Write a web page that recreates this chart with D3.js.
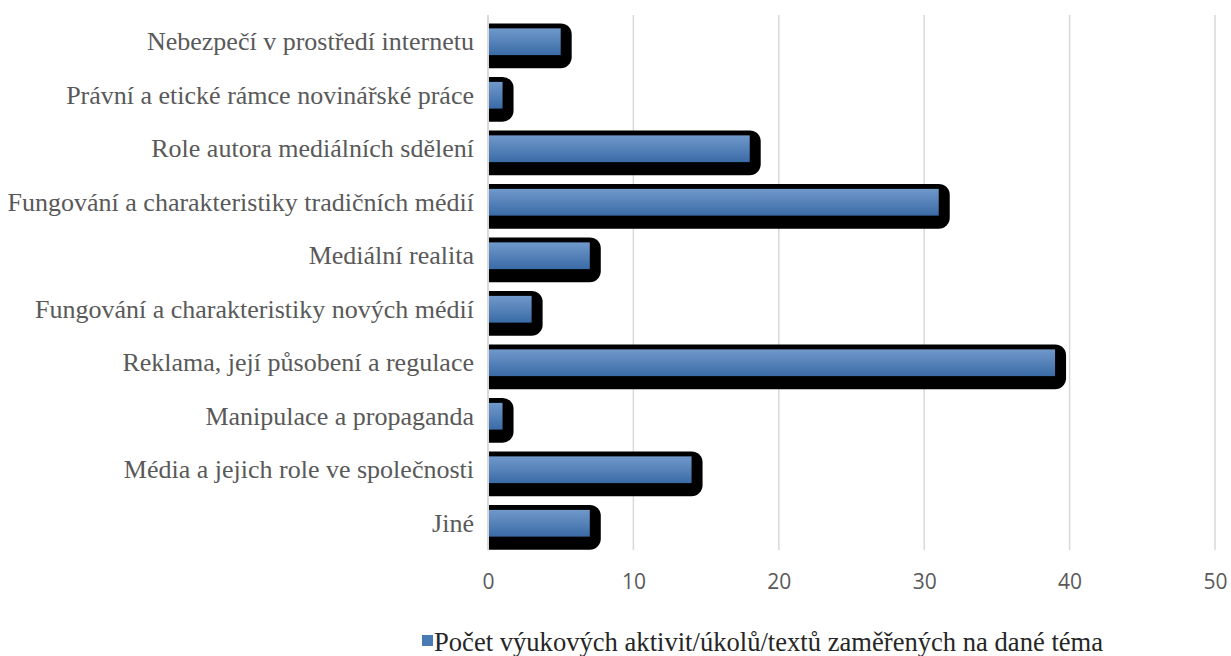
<!DOCTYPE html>
<html>
<head>
<meta charset="utf-8">
<script src="https://cdn.jsdelivr.net/npm/d3@7"></script>
<style>
  body { margin: 0; background: #fff; }
  svg { display: block; }
</style>
</head>
<body>
<script>
  // categories top to bottom, as in the chart
  var categories = [
    "Nebezpečí v prostředí internetu",
    "Právní a etické rámce novinářské práce",
    "Role autora mediálních sdělení",
    "Fungování a charakteristiky tradičních médií",
    "Mediální realita",
    "Fungování a charakteristiky nových médií",
    "Reklama, její působení a regulace",
    "Manipulace a propaganda",
    "Média a jejich role ve společnosti",
    "Jiné"
  ];
  var values = [5, 1, 18, 31, 7, 3, 39, 1, 14, 7];
  var ticks = [0, 10, 20, 30, 40, 50];
  var seriesName = "Počet výukových aktivit/úkolů/textů zaměřených na dané téma";

  var width = 1231,
    height = 656;
  var plotLeft = 488, plotRight = 1215, plotTop = 15, plotBottom = 550;

  var svg = d3.select("body").append("svg")
    .attr("width", width)
    .attr("height", height);

  var defs = svg.append("defs");
  var grad = defs.append("linearGradient")
    .attr("id", "barGrad")
    .attr("x1", 0).attr("y1", 0).attr("x2", 0).attr("y2", 1);
  grad.append("stop").attr("offset", "0%").attr("stop-color", "#7099cb");
  grad.append("stop").attr("offset", "100%").attr("stop-color", "#3a6ba6");

  var x = d3.scaleLinear().domain([0, 50]).range([plotLeft, plotRight]);
  var y = d3.scaleBand().domain(categories).range([plotTop, plotBottom]);

  // gridlines
  svg.append("g").selectAll("line")
    .data(ticks.slice(1))
    .enter().append("line")
    .attr("x1", function(d) { return x(d); })
    .attr("x2", function(d) { return x(d); })
    .attr("y1", plotTop)
    .attr("y2", plotBottom)
    .attr("stroke", "#d9d9d9")
    .attr("stroke-width", 1.5);

  var bh = y.bandwidth() * 0.5;

  // black shadow behind bars, clipped at the axis
  var clip = defs.append("clipPath").attr("id", "plotClip");
  clip.append("rect").attr("x", plotLeft).attr("y", 0).attr("width", width).attr("height", height);

  svg.append("g").attr("clip-path", "url(#plotClip)").selectAll("rect")
    .data(values)
    .enter().append("rect")
    .attr("x", plotLeft - 20)
    .attr("y", function(d, i) { return y(categories[i]) + y.bandwidth() / 2 - bh / 2 - 5; })
    .attr("width", function(d) { return x(d) - plotLeft + 31; })
    .attr("height", bh + 18)
    .attr("rx", 11)
    .attr("fill", "#000");

  // blue bars
  svg.append("g").selectAll("rect")
    .data(values)
    .enter().append("rect")
    .attr("x", plotLeft)
    .attr("y", function(d, i) { return y(categories[i]) + y.bandwidth() / 2 - bh / 2; })
    .attr("width", function(d) { return x(d) - plotLeft; })
    .attr("height", bh)
    .attr("fill", "url(#barGrad)");

  // vertical axis line
  svg.append("line")
    .attr("x1", plotLeft).attr("x2", plotLeft)
    .attr("y1", plotTop).attr("y2", plotBottom)
    .attr("stroke", "#d9d9d9")
    .attr("stroke-width", 2);

  // category labels
  svg.append("g").selectAll("text")
    .data(categories)
    .enter().append("text")
    .attr("x", plotLeft - 14)
    .attr("y", function(d) { return y(d) + y.bandwidth() / 2; })
    .attr("dy", "0.33em")
    .attr("text-anchor", "end")
    .attr("font-family", "'Liberation Serif', 'Times New Roman', serif")
    .attr("font-size", 26)
    .attr("fill", "#595959")
    .text(function(d) { return d; });

  // x tick labels
  var xAxis = d3.axisBottom(x).tickValues(ticks).tickSize(0).tickPadding(0);
  var gx = svg.append("g")
    .attr("transform", "translate(0,589)")
    .call(xAxis);
  gx.select(".domain").remove();
  gx.selectAll("text")
    .attr("y", 0)
    .attr("dy", 0)
    .attr("font-family", "'Open Sans', 'Liberation Sans', sans-serif")
    .attr("font-size", 21)
    .attr("fill", "#595959");

  // legend
  var legend = svg.append("g");
  legend.append("text")
    .attr("x", 434)
    .attr("y", 651)
    .attr("font-family", "'Liberation Serif', 'Times New Roman', serif")
    .attr("font-size", 26.6)
    .attr("fill", "#262626")
    .text(seriesName);
  legend.append("rect")
    .attr("x", 422)
    .attr("y", 635)
    .attr("width", 11)
    .attr("height", 11)
    .attr("fill", "#4a7ab4");
</script>
</body>
</html>
